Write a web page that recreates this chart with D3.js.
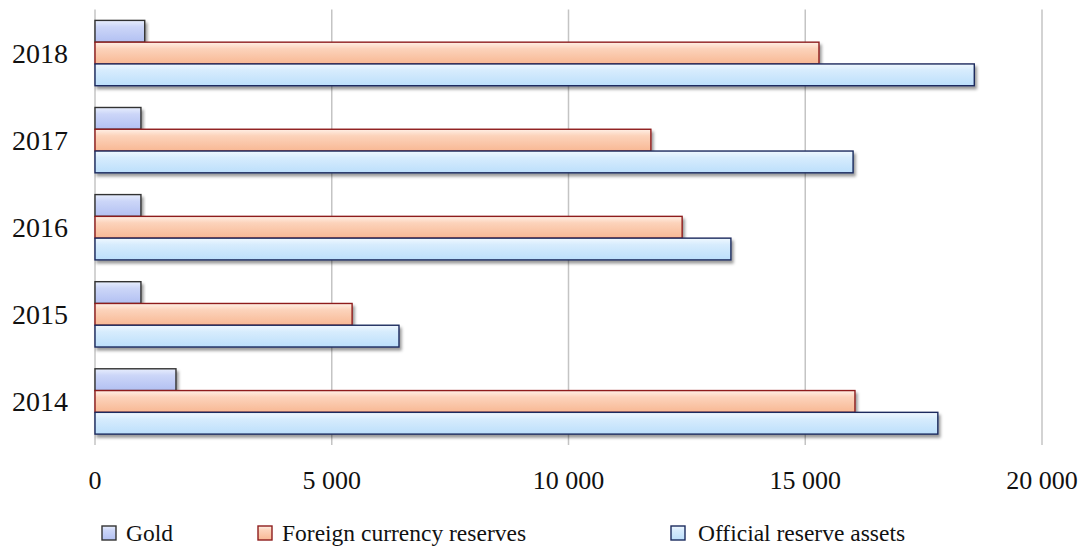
<!DOCTYPE html>
<html>
<head>
<meta charset="utf-8">
<script src="https://cdn.jsdelivr.net/npm/d3@7"></script>
<style>
  body { margin: 0; background: #fff; }
  text { font-family: "Liberation Serif", "Times New Roman", serif; fill: #111; }
</style>
</head>
<body>
<svg id="svg" width="1086" height="549"></svg>
<script>
// data
const years = ['2018', '2017', '2016', '2015', '2014'];
const seriesNames = ['Gold', 'Foreign currency reserves', 'Official reserve assets'];
const gold = [1050, 970, 970, 970, 1710];
const foreign = [15290, 11740, 12400, 5430, 16050];
const official = [18570, 16010, 13430, 6420, 17800];
const xTicks = [0, 5000, 10000, 15000, 20000];

const seriesValues = [gold, foreign, official];
const rows = years.map((y, i) => ({
  year: y,
  values: seriesNames.map((s, j) => ({ key: s, value: seriesValues[j][i] }))
}));

const svg = d3.select('#svg');
const plotLeft = 95, plotRight = 1042, plotTop = 9.5, plotBottom = 445;

const colours = {
  'Gold': { id: 'gGold', stops: ['#e8eefd', '#ccd6f8', '#b2c0f2'], stroke: '#333333' },
  'Foreign currency reserves': { id: 'gFor', stops: ['#fff0e6', '#fcd3bb', '#f8b894'], stroke: '#8e1d1d' },
  'Official reserve assets': { id: 'gOff', stops: ['#f0f8ff', '#d7ecfd', '#bcdffb'], stroke: '#1b2b5e' }
};

const defs = svg.append('defs');
Object.values(colours).forEach(c => {
  const g = defs.append('linearGradient')
    .attr('id', c.id)
    .attr('x1', 0).attr('y1', 0).attr('x2', 0).attr('y2', 1);
  g.append('stop').attr('offset', '0%').attr('stop-color', c.stops[0]);
  g.append('stop').attr('offset', '30%').attr('stop-color', c.stops[1]);
  g.append('stop').attr('offset', '100%').attr('stop-color', c.stops[2]);
});
const shadow = defs.append('filter').attr('id', 'shadow')
  .attr('x', '-5%').attr('y', '-20%').attr('width', '115%').attr('height', '160%');
shadow.append('feDropShadow')
  .attr('dx', 2).attr('dy', 3).attr('stdDeviation', 1.5)
  .attr('flood-color', '#000').attr('flood-opacity', 0.4);

const xScale = d3.scaleLinear().domain([0, 20000]).range([plotLeft, plotRight]);
const yScale = d3.scaleBand().domain(years).range([plotTop, plotBottom])
  .paddingInner(0.25).paddingOuter(0.125);
const ySub = d3.scaleBand().domain(seriesNames).range([0, yScale.bandwidth()]);

const fmt = d => d3.format(',')(d).replace(/,/g, ' ');

// grid
svg.append('g').selectAll('line')
  .data(xTicks)
  .join('line')
  .attr('x1', d => xScale(d)).attr('x2', d => xScale(d))
  .attr('y1', plotTop).attr('y2', plotBottom)
  .attr('stroke', '#c4c4c4')
  .attr('stroke-width', 1.5);

// x tick labels
svg.append('g').selectAll('text')
  .data(xTicks)
  .join('text')
  .attr('x', d => xScale(d))
  .attr('y', 489)
  .attr('text-anchor', 'middle')
  .style('font-size', '26px')
  .text(fmt);

// year labels
svg.append('g').selectAll('text')
  .data(years)
  .join('text')
  .attr('x', 68)
  .attr('y', d => yScale(d) + yScale.bandwidth() / 2)
  .attr('dy', '0.35em')
  .attr('text-anchor', 'end')
  .style('font-size', '28px')
  .text(d => d);

// bars
const groups = svg.append('g').selectAll('g')
  .data(rows)
  .join('g')
  .attr('transform', d => `translate(0,${yScale(d.year)})`);

groups.selectAll('rect')
  .data(d => d.values)
  .join('rect')
  .attr('x', xScale(0))
  .attr('y', d => ySub(d.key))
  .attr('width', d => xScale(d.value) - xScale(0))
  .attr('height', ySub.bandwidth())
  .attr('fill', d => `url(#${colours[d.key].id})`)
  .attr('stroke', d => colours[d.key].stroke)
  .attr('stroke-width', 1.4)
  .attr('filter', 'url(#shadow)');

// legend
const legendX = [102, 258, 671];
const legend = svg.append('g').selectAll('g')
  .data(seriesNames)
  .join('g')
  .attr('transform', (d, i) => `translate(${legendX[i]},526)`);

legend.append('rect')
  .attr('width', 14).attr('height', 14)
  .attr('fill', d => `url(#${colours[d].id})`)
  .attr('stroke', d => colours[d].stroke)
  .attr('stroke-width', 1.4);

legend.append('text')
  .attr('x', (d, i) => i == 2 ? 27 : 24)
  .attr('y', 15)
  .style('font-size', '23.5px')
  .text(d => d);
</script>
</body>
</html>
